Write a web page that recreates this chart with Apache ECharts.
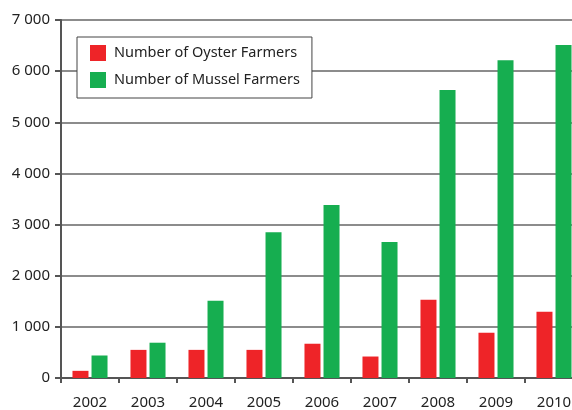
<!DOCTYPE html>
<html>
<head>
<meta charset="utf-8">
<script src="https://cdn.jsdelivr.net/npm/echarts@6/dist/echarts.min.js"></script>
<style>
  html, body { margin: 0; padding: 0; background: #fff; }
  #chart { width: 572px; height: 410px; }
</style>
</head>
<body>
<div id="chart"></div>
<script>
  const years = ["2002", "2003", "2004", "2005", "2006", "2007", "2008", "2009", "2010"];
  const oysterFarmers = [140, 550, 550, 550, 670, 420, 1530, 885, 1295];
  const musselFarmers = [440, 690, 1510, 2850, 3385, 2660, 5630, 6215, 6510];

  const font = "Noto Sans";
  const chart = echarts.init(document.getElementById("chart"), null, { renderer: "canvas" });

  chart.setOption({
    animation: false,
    textStyle: { fontFamily: font },
    grid: {
      left: 61, top: 20, width: 522, height: 358,
      containLabel: false, outerBoundsMode: "none"
    },
    legend: {
      left: 77,
      top: 37,
      orient: "vertical",
      itemWidth: 16,
      itemHeight: 16,
      itemGap: 11,
      padding: [8, 12, 10, 13],
      borderColor: "#444",
      borderWidth: 1,
      backgroundColor: "#fff",
      icon: "rect",
      textStyle: { fontFamily: font, fontSize: 14.5, color: "#222", padding: [0, 0, 0, 3] },
      data: ["Number of Oyster Farmers", "Number of Mussel Farmers"]
    },
    xAxis: {
      type: "category",
      data: years,
      axisLine: { lineStyle: { color: "#555", width: 2 } },
      axisTick: { show: true, length: 5, lineStyle: { color: "#555", width: 2 } },
      axisLabel: { color: "#222", fontSize: 15, margin: 17, fontFamily: font }
    },
    yAxis: {
      type: "value",
      min: 0,
      max: 7000,
      interval: 1000,
      axisLine: { show: true, lineStyle: { color: "#555", width: 2 } },
      axisTick: { show: true, length: 6, lineStyle: { color: "#555", width: 2 } },
      axisLabel: {
        color: "#222",
        fontSize: 15,
        margin: 11,
        fontFamily: font,
        formatter: (v) => String(v).replace(/\B(?=(\d{3})+(?!\d))/g, " ")
      },
      splitLine: { lineStyle: { color: "#666", width: 1.5 } }
    },
    series: [
      {
        name: "Number of Oyster Farmers",
        type: "bar",
        data: oysterFarmers,
        barWidth: 16,
        barGap: "19%",
        itemStyle: { color: "#ee2428" }
      },
      {
        name: "Number of Mussel Farmers",
        type: "bar",
        data: musselFarmers,
        barWidth: 16,
        barGap: "19%",
        itemStyle: { color: "#16ae50" }
      }
    ]
  });
</script>
</body>
</html>
